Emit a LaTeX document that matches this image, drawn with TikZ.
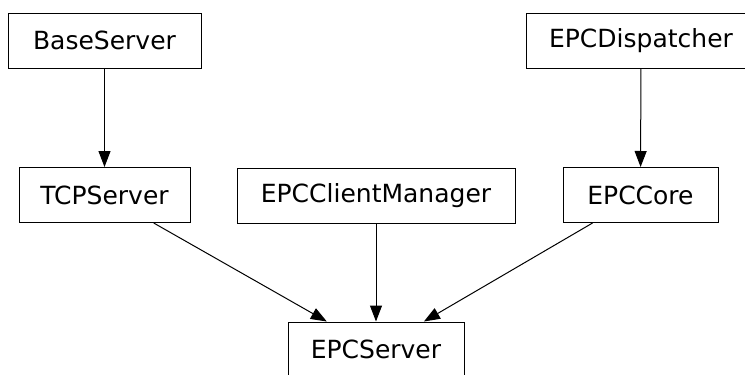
\documentclass[tikz,border=0pt]{standalone}
\usepackage{fontspec}
\setmainfont{DejaVu Sans}
\usetikzlibrary{arrows.meta}
\begin{document}
\begin{tikzpicture}[x=1pt, y=-1pt, class_style/.style={draw=black, line width=1pt, fill=white, minimum height=55pt, inner sep=0pt, font=\fontsize{25}{30}\selectfont}, edge_style/.style={draw=black, line width=1pt, -{Triangle[length=16pt,width=12pt]}}]
      \useasboundingbox (0,0) rectangle (745,375);
      \clip (0,0) rectangle (745,375);
      \draw
        (104.5, 40.5) node[class_style, minimum width=193pt] (BaseServer){BaseServer}
        (641, 41) node[class_style, minimum width=230pt] (EPCDispatcher){EPCDispatcher}
        (104.5, 195) node[class_style, minimum width=171pt] (TCPServer){TCPServer}
        (376, 195.5) node[class_style, minimum width=278pt] (EPCClientManager){EPCClientManager}
        (640.5, 195) node[class_style, minimum width=155pt] (EPCCore){EPCCore}
        (376, 349.5) node[class_style, minimum width=176pt] (EPCServer){EPCServer};
      \begin{scope}[-]
        \draw[edge_style] (BaseServer) to (TCPServer);
        \draw[edge_style] (EPCDispatcher) to (EPCCore);
        \draw[edge_style] (TCPServer) to (EPCServer);
        \draw[edge_style] (EPCClientManager) to (EPCServer);
        \draw[edge_style] (EPCCore) to (EPCServer);
      \end{scope}
    \end{tikzpicture}
\end{document}
